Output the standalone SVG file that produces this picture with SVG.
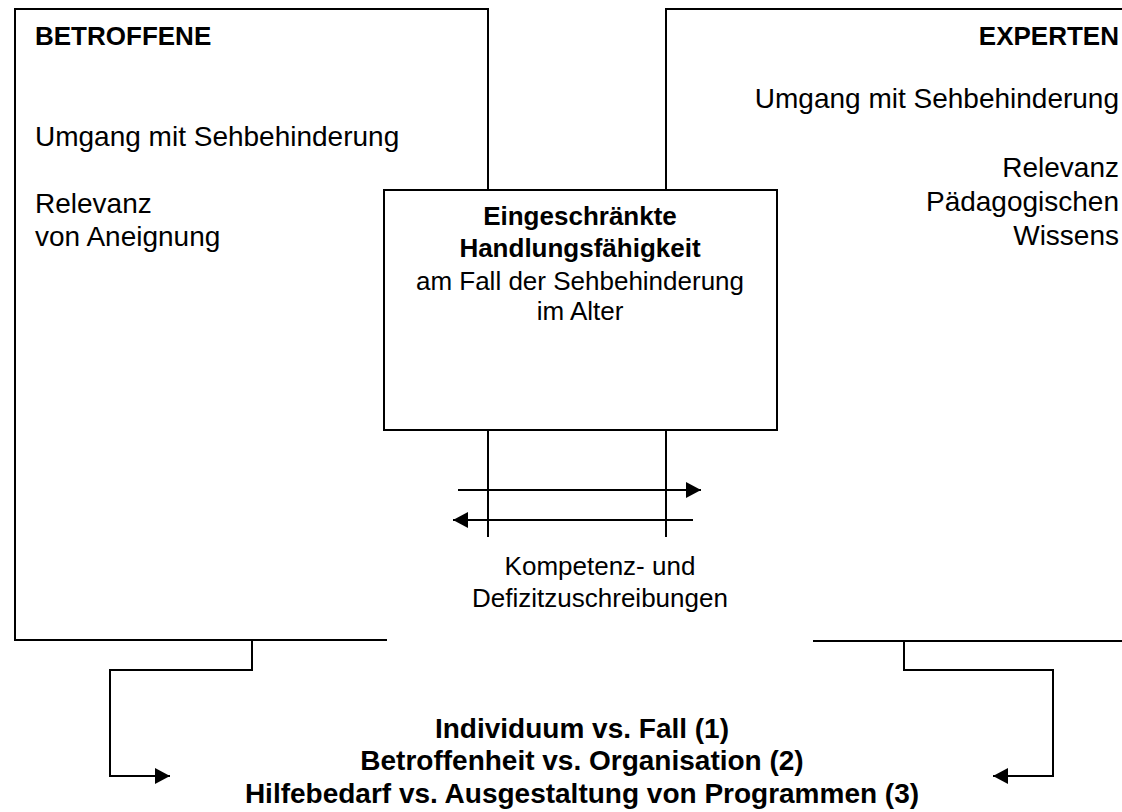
<svg xmlns="http://www.w3.org/2000/svg" width="1122" height="812" viewBox="0 0 1122 812">
<style>
.ln{fill:none;stroke:#000;stroke-width:2}
.t{font-family:"Liberation Sans",Arial,sans-serif;fill:#000}
.r28{font-size:28px}
.r26{font-size:26px}
.b26{font-size:26px;font-weight:bold}
.b28{font-size:28px;font-weight:bold}
</style>
<defs>
<marker id="ah" markerWidth="16" markerHeight="16" refX="15" refY="8" orient="auto" markerUnits="userSpaceOnUse">
<path d="M0,0 L15,8 L0,16 Z" fill="#000"/>
</marker>
</defs>
<rect width="1122" height="812" fill="#fff"/>
<g id="betroffene">
<path class="ln" d="M387,640 H15 V9 H488 V190"/>
<text class="t b26" x="35" y="45">BETROFFENE</text>
<text class="t r28" x="35" y="146">Umgang mit Sehbehinderung</text>
<text class="t r28" x="35" y="213">Relevanz</text>
<text class="t r28" x="35" y="246">von Aneignung</text>
</g>
<g id="experten">
<path class="ln" d="M666,190 V9 H1122"/>
<path class="ln" d="M813,641 H1122"/>
<text class="t b26" x="1119" y="45" text-anchor="end">EXPERTEN</text>
<text class="t r28" x="1119" y="108" text-anchor="end">Umgang mit Sehbehinderung</text>
<text class="t r28" x="1119" y="177" text-anchor="end">Relevanz</text>
<text class="t r28" x="1119" y="211" text-anchor="end">Pädagogischen</text>
<text class="t r28" x="1119" y="245" text-anchor="end">Wissens</text>
</g>
<g id="handlungsfaehigkeit">
<rect class="ln" x="384" y="190" width="393" height="240"/>
<text class="t b26" x="580" y="225" text-anchor="middle">Eingeschränkte</text>
<text class="t b26" x="580" y="257" text-anchor="middle">Handlungsfähigkeit</text>
<text class="t r26" x="580" y="290" text-anchor="middle">am Fall der Sehbehinderung</text>
<text class="t r26" x="580" y="320" text-anchor="middle">im Alter</text>
</g>
<g id="zuschreibungen">
<text class="t r26" x="600" y="575" text-anchor="middle">Kompetenz- und</text>
<text class="t r26" x="600" y="607" text-anchor="middle">Defizitzuschreibungen</text>
</g>
<g id="spannungsfelder">
<text class="t b28" x="582" y="738" text-anchor="middle">Individuum vs. Fall (1)</text>
<text class="t b28" x="582" y="770" text-anchor="middle">Betroffenheit vs. Organisation (2)</text>
<text class="t b28" x="582" y="803" text-anchor="middle">Hilfebedarf vs. Ausgestaltung von Programmen (3)</text>
</g>
<g id="connectors">
<path class="ln" d="M488,430 V537"/>
<path class="ln" d="M666,430 V537"/>
<path class="ln" d="M458,490 H701" marker-end="url(#ah)"/>
<path class="ln" d="M693,520 H453" marker-end="url(#ah)"/>
<path class="ln" d="M252,640 V670 H110 V776 H170" marker-end="url(#ah)"/>
<path class="ln" d="M904,641 V670 H1053 V776 H993" marker-end="url(#ah)"/>
</g>
</svg>
